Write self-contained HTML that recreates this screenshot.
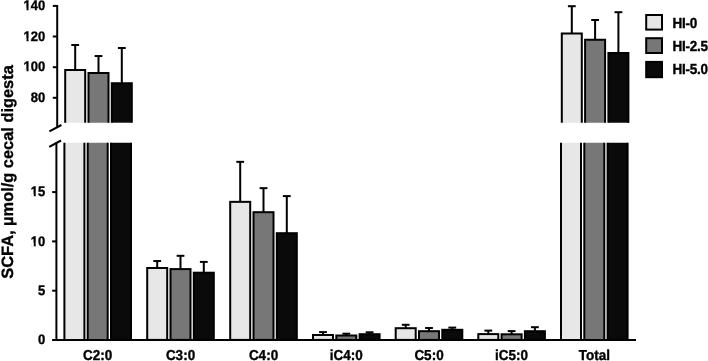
<!DOCTYPE html>
<html><head><meta charset="utf-8"><style>
html,body{margin:0;padding:0;background:#fff;}
svg{display:block;will-change:transform;}
line{stroke:#000;stroke-width:2;}
.b{stroke:#000;stroke-width:2;}
text{font-family:"Liberation Sans",sans-serif;font-weight:bold;fill:#000;text-rendering:geometricPrecision;stroke:#000;stroke-width:0.35px;}
.xl{font-size:13.5px;text-anchor:middle;}
.yl{font-size:13px;text-anchor:end;}
.lg{font-size:13.5px;letter-spacing:-0.25px;}
.yt{font-size:16.4px;}
</style></head><body>
<svg width="708" height="361" viewBox="0 0 708 361">
<line x1="75.20" y1="45.00" x2="75.20" y2="70.10"/>
<line x1="71.30" y1="45.00" x2="79.10" y2="45.00"/>
<path class="b" d="M65.20,122.70 V70.10 H85.20 V122.70" fill="#e7e7e7"/>
<path class="b" d="M64.40,339.90 V142.70 H84.40 V339.90" fill="#e7e7e7" stroke-dasharray="197.20 20.00 1000"/>
<line x1="98.50" y1="56.05" x2="98.50" y2="73.00"/>
<line x1="94.60" y1="56.05" x2="102.40" y2="56.05"/>
<path class="b" d="M88.50,122.70 V73.00 H108.50 V122.70" fill="#777777"/>
<path class="b" d="M87.70,339.90 V142.70 H107.70 V339.90" fill="#777777" stroke-dasharray="197.20 20.00 1000"/>
<line x1="121.80" y1="48.00" x2="121.80" y2="83.20"/>
<line x1="117.90" y1="48.00" x2="125.70" y2="48.00"/>
<path class="b" d="M111.80,122.70 V83.20 H131.80 V122.70" fill="#0a0a0a"/>
<path class="b" d="M111.00,339.90 V142.70 H131.00 V339.90" fill="#0a0a0a" stroke-dasharray="197.20 20.00 1000"/>
<text transform="translate(97.70,359.6) scale(1,1.07)" class="xl">C2:0</text>
<line x1="157.20" y1="261.05" x2="157.20" y2="268.00"/>
<line x1="153.30" y1="261.05" x2="161.10" y2="261.05"/>
<rect class="b" x="147.20" y="268.00" width="20.00" height="71.90" fill="#e7e7e7"/>
<line x1="180.50" y1="255.80" x2="180.50" y2="269.10"/>
<line x1="176.60" y1="255.80" x2="184.40" y2="255.80"/>
<rect class="b" x="170.50" y="269.10" width="20.00" height="70.80" fill="#777777"/>
<line x1="203.80" y1="261.90" x2="203.80" y2="272.70"/>
<line x1="199.90" y1="261.90" x2="207.70" y2="261.90"/>
<rect class="b" x="193.80" y="272.70" width="20.00" height="67.20" fill="#0a0a0a"/>
<text transform="translate(180.50,359.6) scale(1,1.07)" class="xl">C3:0</text>
<line x1="240.20" y1="161.85" x2="240.20" y2="201.85"/>
<line x1="236.30" y1="161.85" x2="244.10" y2="161.85"/>
<rect class="b" x="230.20" y="201.85" width="20.00" height="138.05" fill="#e7e7e7"/>
<line x1="263.50" y1="188.15" x2="263.50" y2="212.20"/>
<line x1="259.60" y1="188.15" x2="267.40" y2="188.15"/>
<rect class="b" x="253.50" y="212.20" width="20.00" height="127.70" fill="#777777"/>
<line x1="286.80" y1="196.10" x2="286.80" y2="233.20"/>
<line x1="282.90" y1="196.10" x2="290.70" y2="196.10"/>
<rect class="b" x="276.80" y="233.20" width="20.00" height="106.70" fill="#0a0a0a"/>
<text transform="translate(263.50,359.6) scale(1,1.07)" class="xl">C4:0</text>
<line x1="323.00" y1="332.10" x2="323.00" y2="335.00"/>
<line x1="319.10" y1="332.10" x2="326.90" y2="332.10"/>
<rect class="b" x="313.00" y="335.00" width="20.00" height="4.90" fill="#e7e7e7"/>
<line x1="346.30" y1="333.70" x2="346.30" y2="335.50"/>
<line x1="342.40" y1="333.70" x2="350.20" y2="333.70"/>
<rect class="b" x="336.30" y="335.50" width="20.00" height="4.40" fill="#777777"/>
<line x1="369.60" y1="332.30" x2="369.60" y2="334.20"/>
<line x1="365.70" y1="332.30" x2="373.50" y2="332.30"/>
<rect class="b" x="359.60" y="334.20" width="20.00" height="5.70" fill="#0a0a0a"/>
<text transform="translate(346.30,359.6) scale(1,1.07)" class="xl">iC4:0</text>
<line x1="405.70" y1="324.80" x2="405.70" y2="328.20"/>
<line x1="401.80" y1="324.80" x2="409.60" y2="324.80"/>
<rect class="b" x="395.70" y="328.20" width="20.00" height="11.70" fill="#e7e7e7"/>
<line x1="429.00" y1="328.00" x2="429.00" y2="331.20"/>
<line x1="425.10" y1="328.00" x2="432.90" y2="328.00"/>
<rect class="b" x="419.00" y="331.20" width="20.00" height="8.70" fill="#777777"/>
<line x1="452.30" y1="327.60" x2="452.30" y2="329.80"/>
<line x1="448.40" y1="327.60" x2="456.20" y2="327.60"/>
<rect class="b" x="442.30" y="329.80" width="20.00" height="10.10" fill="#0a0a0a"/>
<text transform="translate(429.00,359.6) scale(1,1.07)" class="xl">C5:0</text>
<line x1="488.30" y1="330.60" x2="488.30" y2="334.10"/>
<line x1="484.40" y1="330.60" x2="492.20" y2="330.60"/>
<rect class="b" x="478.30" y="334.10" width="20.00" height="5.80" fill="#e7e7e7"/>
<line x1="511.60" y1="331.10" x2="511.60" y2="334.30"/>
<line x1="507.70" y1="331.10" x2="515.50" y2="331.10"/>
<rect class="b" x="501.60" y="334.30" width="20.00" height="5.60" fill="#777777"/>
<line x1="534.90" y1="327.20" x2="534.90" y2="331.20"/>
<line x1="531.00" y1="327.20" x2="538.80" y2="327.20"/>
<rect class="b" x="524.90" y="331.20" width="20.00" height="8.70" fill="#0a0a0a"/>
<text transform="translate(511.60,359.6) scale(1,1.07)" class="xl">iC5:0</text>
<line x1="571.80" y1="6.20" x2="571.80" y2="33.40"/>
<line x1="567.90" y1="6.20" x2="575.70" y2="6.20"/>
<path class="b" d="M561.80,122.70 V33.40 H581.80 V122.70" fill="#e7e7e7"/>
<path class="b" d="M561.00,339.90 V142.70 H581.00 V339.90" fill="#e7e7e7" stroke-dasharray="197.20 20.00 1000"/>
<line x1="595.10" y1="20.00" x2="595.10" y2="39.80"/>
<line x1="591.20" y1="20.00" x2="599.00" y2="20.00"/>
<path class="b" d="M585.10,122.70 V39.80 H605.10 V122.70" fill="#777777"/>
<path class="b" d="M584.30,339.90 V142.70 H604.30 V339.90" fill="#777777" stroke-dasharray="197.20 20.00 1000"/>
<line x1="618.40" y1="12.20" x2="618.40" y2="53.00"/>
<line x1="614.50" y1="12.20" x2="622.30" y2="12.20"/>
<path class="b" d="M608.40,122.70 V53.00 H628.40 V122.70" fill="#0a0a0a"/>
<path class="b" d="M607.60,339.90 V142.70 H627.60 V339.90" fill="#0a0a0a" stroke-dasharray="197.20 20.00 1000"/>
<text transform="translate(594.30,359.6) scale(1,1.07)" class="xl">Total</text>
<line x1="57.20" y1="5.00" x2="57.20" y2="127.50"/>
<line x1="52.80" y1="5.90" x2="57.20" y2="5.90"/>
<line x1="52.80" y1="36.50" x2="57.20" y2="36.50"/>
<line x1="52.80" y1="67.20" x2="57.20" y2="67.20"/>
<line x1="52.80" y1="97.80" x2="57.20" y2="97.80"/>
<line x1="56.40" y1="142.00" x2="56.40" y2="339.90"/>
<line x1="52.10" y1="192.10" x2="56.40" y2="192.10"/>
<line x1="52.10" y1="241.40" x2="56.40" y2="241.40"/>
<line x1="52.10" y1="290.70" x2="56.40" y2="290.70"/>
<line x1="52.10" y1="339.90" x2="636.00" y2="339.90"/>
<line x1="49.40" y1="131.30" x2="61.40" y2="125.00"/>
<line x1="49.20" y1="146.90" x2="61.00" y2="140.50"/>
<text transform="translate(45.3,10.15) scale(1,1.06)" class="yl">140</text>
<rect x="23.91" y="7.84" width="2.61" height="3.41" fill="#fff"/>
<rect x="28.55" y="7.84" width="2.16" height="3.41" fill="#fff"/>
<text transform="translate(45.3,40.75) scale(1,1.06)" class="yl">120</text>
<rect x="23.91" y="38.44" width="2.61" height="3.41" fill="#fff"/>
<rect x="28.55" y="38.44" width="2.16" height="3.41" fill="#fff"/>
<text transform="translate(45.3,71.45) scale(1,1.06)" class="yl">100</text>
<rect x="23.91" y="69.14" width="2.61" height="3.41" fill="#fff"/>
<rect x="28.55" y="69.14" width="2.16" height="3.41" fill="#fff"/>
<text transform="translate(45.3,102.05) scale(1,1.06)" class="yl">80</text>
<text transform="translate(45.3,196.35) scale(1,1.06)" class="yl">15</text>
<rect x="31.14" y="194.04" width="2.61" height="3.41" fill="#fff"/>
<rect x="35.78" y="194.04" width="2.16" height="3.41" fill="#fff"/>
<text transform="translate(45.3,245.65) scale(1,1.06)" class="yl">10</text>
<rect x="31.14" y="243.34" width="2.61" height="3.41" fill="#fff"/>
<rect x="35.78" y="243.34" width="2.16" height="3.41" fill="#fff"/>
<text transform="translate(45.3,294.95) scale(1,1.06)" class="yl">5</text>
<text transform="translate(45.3,344.15) scale(1,1.06)" class="yl">0</text>
<rect class="b" x="646.2" y="15.00" width="15.8" height="14.60" fill="#e7e7e7"/>
<text transform="translate(672.5,27.60) scale(1,1.08)" class="lg">HI-0</text>
<rect class="b" x="646.2" y="38.20" width="15.8" height="14.80" fill="#777777"/>
<text transform="translate(672.5,50.80) scale(1,1.08)" class="lg">HI-2.5</text>
<rect class="b" x="646.2" y="61.90" width="15.8" height="15.30" fill="#0a0a0a"/>
<text transform="translate(672.5,74.40) scale(1,1.08)" class="lg">HI-5.0</text>
<text transform="translate(13.3,278.7) rotate(-90)" class="yt">SCFA, µmol/g cecal digesta</text>
</svg>
</body></html>
